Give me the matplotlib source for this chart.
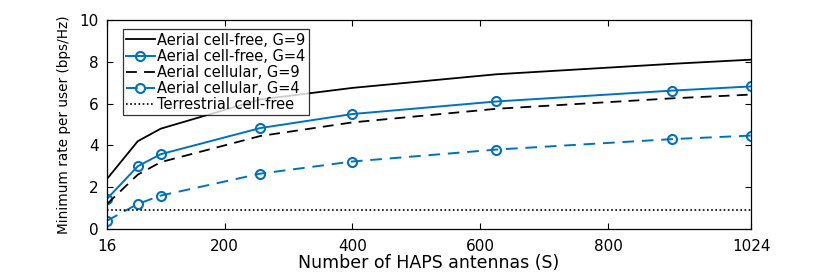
import numpy as np
import matplotlib
matplotlib.use('Agg')
import matplotlib.pyplot as plt

# HAPS antenna counts (S)
S_VALS = [16, 64, 100, 256, 400, 625, 900, 1024]

# minimum rate per user (bps/Hz)
CF_G9 = [2.4, 4.2, 4.8, 6.2, 6.75, 7.4, 7.9, 8.1]
CF_G4 = [1.45, 3.0, 3.58, 4.83, 5.5, 6.1, 6.62, 6.82]
CELL_G9 = [1.2, 2.6, 3.2, 4.45, 5.1, 5.75, 6.25, 6.43]
CELL_G4 = [0.4, 1.2, 1.6, 2.65, 3.23, 3.8, 4.3, 4.47]
TERR_CF = [0.9, 0.9, 0.9, 0.9, 0.9, 0.9, 0.9, 0.9]

LABELS = ['Aerial cell-free, G=9', 'Aerial cell-free, G=4',
          'Aerial cellular, G=9', 'Aerial cellular, G=4',
          'Terrestrial cell-free']
X_TICKS = [16, 200, 400, 600, 800, 1024]
Y_TICKS = [0, 2, 4, 6, 8, 10]

BLUE = '#0072BD'

plt.rcParams['font.family'] = ['DejaVu Sans']

fig = plt.figure(figsize=(8.3, 2.73), dpi=100)
ax = fig.add_axes([0.129, 0.161, 0.776, 0.766])

ax.plot(S_VALS, CF_G9, color='black', lw=1.3, label=LABELS[0])
ax.plot(S_VALS, CF_G4, color=BLUE, lw=1.4, marker='o', ms=6.5,
        mfc='none', mew=1.5, label=LABELS[1])
ax.plot(S_VALS, CELL_G9, color='black', lw=1.3, ls=(0, (6, 4)), label=LABELS[2])
ax.plot(S_VALS, CELL_G4, color=BLUE, lw=1.4, ls=(0, (6, 4)), marker='o', ms=6.5,
        mfc='none', mew=1.5, label=LABELS[3])
ax.plot(S_VALS, TERR_CF, color='black', lw=1.2, ls=(0, (1, 1.5)), label=LABELS[4])

ax.set_xlim(16, 1024)
ax.set_ylim(0, 10)
ax.set_xticks(X_TICKS)
ax.set_yticks(Y_TICKS)
ax.tick_params(direction='in', length=4, width=0.8, top=True, right=True,
               labelsize=11)
ax.tick_params(axis='x', pad=7)
ax.tick_params(axis='y', pad=6)
for sp in ax.spines.values():
    sp.set_linewidth(0.9)

ax.set_xlabel('Number of HAPS antennas (S)', fontsize=12.5, labelpad=0)
ax.set_ylabel('Minimum rate per user (bps/Hz)', fontsize=9.8, labelpad=6)

leg = ax.legend(loc='upper left', bbox_to_anchor=(0.024, 0.955), fontsize=10.5,
                frameon=True, fancybox=False, edgecolor='black',
                handlelength=2.0, handletextpad=0.15, labelspacing=0.08,
                borderpad=0.22, borderaxespad=0.0)
leg.get_frame().set_linewidth(0.9)

fig.savefig('out.png', dpi=100)
